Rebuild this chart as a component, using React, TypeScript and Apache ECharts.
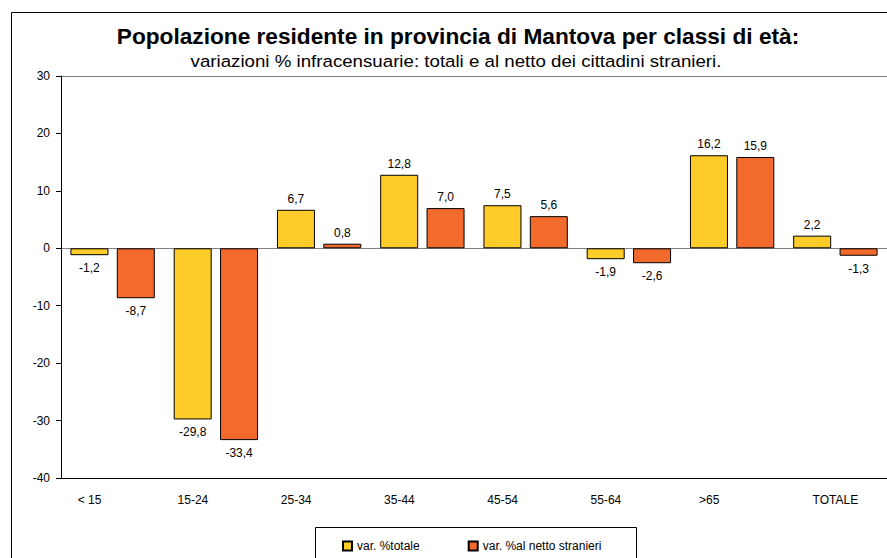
import React, { useEffect, useRef } from "react";
import * as echarts from "echarts";

const categories = ["< 15", "15-24", "25-34", "35-44", "45-54", "55-64", ">65", "TOTALE"];
const varTotale = [-1.2, -29.8, 6.7, 12.8, 7.5, -1.9, 16.2, 2.2];
const varNetto = [-8.7, -33.4, 0.8, 7.0, 5.6, -2.6, 15.9, -1.3];
const seriesNames = ["var. %totale", "var. %al netto stranieri"];
const yTicks = { min: -40, max: 30, interval: 10 };

const FONT = "Liberation Sans";

function fmt(v: number) {
  return v.toFixed(1).replace(".", ",");
}

function barData(vals: number[]) {
  return vals.map((v) => ({
    value: v,
    label: { position: v >= 0 ? "top" : "bottom", distance: v >= 0 ? 5 : 7 },
  }));
}

export default function App() {
  const ref = useRef<HTMLDivElement>(null);
  useEffect(() => {
    if (!ref.current) return;
    const chart = echarts.init(ref.current, undefined, { renderer: "svg" });
    const labelStyle = {
      show: true,
      color: "#000",
      fontFamily: FONT,
      fontSize: 12,
      formatter: (p: any) => fmt(p.value),
    };
    chart.setOption({
      animation: false,
      backgroundColor: "#fff",
      textStyle: { fontFamily: FONT },
      grid: { left: 61, top: 76, right: -1, bottom: 80, containLabel: false },
      graphic: [
        {
          type: "rect",
          shape: { x: 11.5, y: 12.5, width: 900, height: 600 },
          style: { fill: "none", stroke: "#000", lineWidth: 1 },
          silent: true,
        },
        {
          type: "text",
          x: 458,
          y: 37,
          scaleX: 1.03,
          style: {
            text: "Popolazione residente in provincia di Mantova per classi di età:",
            fontFamily: FONT,
            fontSize: 22,
            fontWeight: "bold",
            fill: "#000",
            align: "center",
            verticalAlign: "middle",
          },
        },
        {
          type: "text",
          x: 456,
          y: 61,
          scaleX: 1.1,
          style: {
            text: "variazioni % infracensuarie: totali e al netto dei cittadini stranieri.",
            fontFamily: FONT,
            fontSize: 17,
            fill: "#000",
            align: "center",
            verticalAlign: "middle",
          },
        },
        {
          type: "rect",
          shape: { x: 315.5, y: 527.5, width: 321, height: 60 },
          style: { fill: "none", stroke: "#000", lineWidth: 1 },
          silent: true,
        },
      ],
      legend: {
        left: 337,
        top: 535,
        icon: "rect",
        itemWidth: 9,
        itemHeight: 9,
        itemGap: 48,
        textStyle: { fontFamily: FONT, fontSize: 12, color: "#000" },
        data: seriesNames,
      },
      xAxis: {
        type: "category",
        data: categories,
        axisLine: { show: true, onZero: false, lineStyle: { color: "#000", width: 1 } },
        axisTick: { show: false },
        axisLabel: {
          margin: 16,
          color: "#000",
          fontFamily: FONT,
          fontSize: 12,
          interval: 0,
          formatter: (v: string) => (v === "TOTALE" ? "{b|" + v + "}" : "{a|" + v + "}"),
          rich: {
            a: { fontFamily: FONT, fontSize: 12, color: "#000", padding: [0, 46, 0, 0] },
            b: { fontFamily: FONT, fontSize: 12, color: "#000" },
          },
        },
        splitLine: { show: false },
      },
      yAxis: {
        type: "value",
        min: yTicks.min,
        max: yTicks.max,
        interval: yTicks.interval,
        axisLine: { show: true, lineStyle: { color: "#000", width: 1 } },
        axisTick: { show: true, length: 5, inside: false, lineStyle: { color: "#000" } },
        axisLabel: {
          margin: 11,
          color: "#000",
          fontFamily: FONT,
          fontSize: 12,
        },
        splitLine: {
          show: true,
          lineStyle: {
            color: [
              "rgba(0,0,0,0)",
              "rgba(0,0,0,0)",
              "rgba(0,0,0,0)",
              "rgba(0,0,0,0)",
              "#808080",
              "rgba(0,0,0,0)",
              "rgba(0,0,0,0)",
              "#808080",
            ],
            width: 1,
          },
        },
      },
      series: [
        {
          name: seriesNames[0],
          type: "bar",
          data: barData(varTotale),
          barWidth: 38,
          barGap: "22%",
          itemStyle: { color: "#FFCC29", borderColor: "#000", borderWidth: 1 },
          label: labelStyle,
        },
        {
          name: seriesNames[1],
          type: "bar",
          data: barData(varNetto),
          barWidth: 38,
          itemStyle: { color: "#F26A2C", borderColor: "#000", borderWidth: 1 },
          label: labelStyle,
        },
      ],
    });
    return () => chart.dispose();
  }, []);
  return (
    <div
      ref={ref}
      style={{ position: "fixed", left: 0, top: 0, width: 887, height: 558 }}
    />
  );
}
